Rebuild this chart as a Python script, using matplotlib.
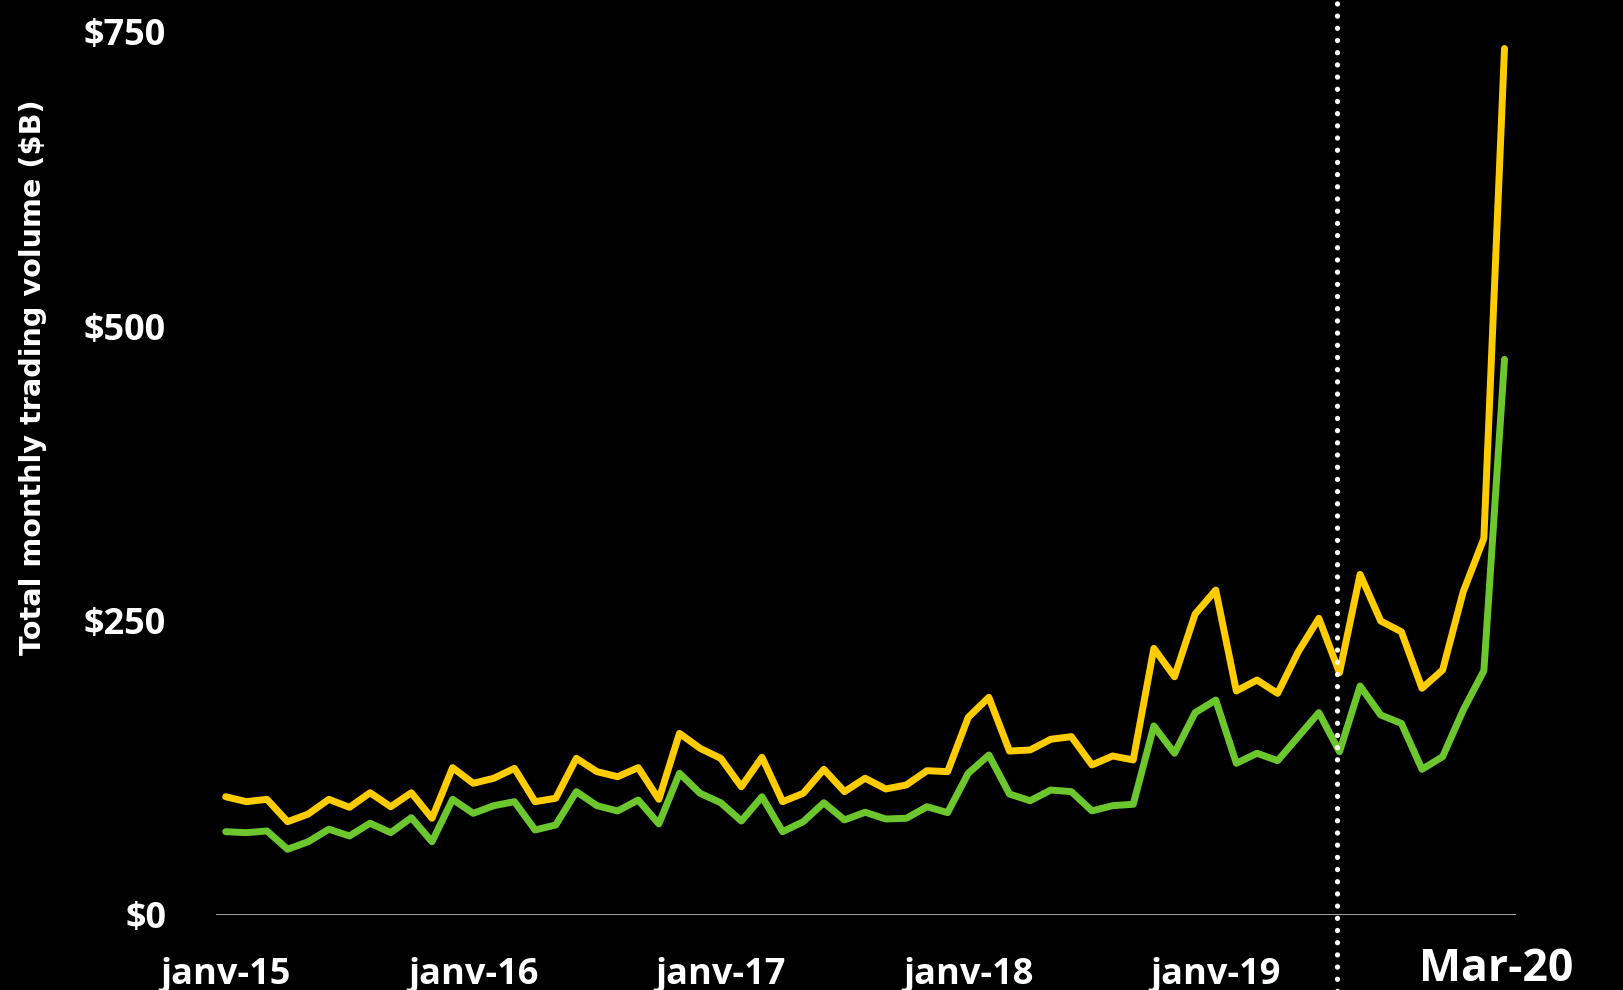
import numpy as np
import matplotlib
matplotlib.use('Agg')
import matplotlib.pyplot as plt
import matplotlib.transforms as mtransforms

# Monthly trading volume ($B), Jan 2015 .. Mar 2020
yellow_vals = [100.4, 96.2, 98.2, 79.2, 85.7, 98.2, 91.4, 103.8, 91.9, 103.8,
               82.1, 125.1, 111.8, 116.1, 124.5, 96.2, 99.1, 133.0, 121.7, 117.4,
               125.1, 98.2, 154.2, 141.5, 133.0, 108.9, 133.9, 96.2, 103.3, 123.7,
               104.7, 116.1, 107.0, 110.4, 122.5, 121.7, 167.8, 184.8, 139.2, 140.1,
               149.2, 151.4, 127.4, 135.0, 131.6, 226.4, 202.3, 255.5, 275.9, 190.2,
               199.5, 188.2, 223.5, 251.9, 205.7, 289.2, 249.6, 240.5, 192.5, 208.0,
               274.5, 319.8, 735.8]
green_vals = [70.7, 69.9, 71.3, 55.8, 62.2, 72.8, 67.1, 77.9, 69.9, 82.6,
              62.2, 98.2, 86.3, 92.8, 96.2, 72.2, 76.4, 104.7, 92.8, 88.3,
              97.6, 77.3, 120.3, 103.3, 95.3, 79.8, 100.4, 70.7, 79.2, 95.3,
              80.7, 87.2, 81.5, 82.1, 91.9, 86.9, 120.3, 135.8, 102.7, 97.0,
              106.1, 104.7, 88.4, 92.8, 94.0, 160.5, 137.3, 171.8, 182.5, 128.8,
              137.3, 131.0, 151.4, 171.8, 138.6, 194.4, 169.8, 162.7, 123.7, 134.4,
              174.0, 207.4, 471.8]
months = np.arange(len(yellow_vals))

x_tick_pos = [0, 12, 24, 36, 48, 62]
x_tick_labels = ['janv-15', 'janv-16', 'janv-17', 'janv-18', 'janv-19', 'Mar-20']
y_ticks = [0, 250, 500, 750]
y_tick_labels = ['$0', '$250', '$500', '$750']
marker_month = 53.9  # dotted separator

plt.rcParams['font.family'] = ['Open Sans', 'DejaVu Sans']
plt.rcParams['font.weight'] = 'bold'

fig = plt.figure(figsize=(16.23, 9.90), dpi=100, facecolor='black')
ax = fig.add_axes([0.1331, 0.0758, 0.801, 0.904], facecolor='black')

ax.plot(months, yellow_vals, color='#FFCC00', linewidth=5, solid_capstyle='round')
ax.plot(months, green_vals, color='#6CC72F', linewidth=5, solid_capstyle='round')

# baseline
ax.axhline(0, color='#D9D9D9', linewidth=1.8, zorder=1)

# dotted vertical separator across whole figure height
ax.axvline(marker_month, ymin=-0.1, ymax=1.1, clip_on=False, color='white',
           linewidth=3.8, linestyle=(0, (0.01, 2.3)), dash_capstyle='round')

ax.set_xlim(-0.47, 62.56)
ax.set_ylim(0, 760)

for s in ax.spines.values():
    s.set_visible(False)

ax.set_yticks(y_ticks)
ax.set_yticklabels(y_tick_labels, fontsize=26, fontweight='bold', color='white')
ax.set_xticks(x_tick_pos)
ax.set_xticklabels(x_tick_labels, fontsize=26, fontweight='bold', color='white')
ax.tick_params(axis='both', length=0)
ax.tick_params(axis='y', pad=36)
ax.tick_params(axis='x', pad=30)

last = ax.get_xticklabels()[-1]
last.set_fontsize(32)
last.set_transform(last.get_transform() +
                   mtransforms.ScaledTranslation(-8 / 100, 10 / 100, fig.dpi_scale_trans))

ax.set_ylabel('Total monthly trading volume ($B)', fontsize=20.7, fontweight='bold',
              color='white', family=['DejaVu Sans'])
ax.yaxis.set_label_coords(-0.130, 0.601)

fig.savefig('out.png', dpi=100, facecolor='black')
